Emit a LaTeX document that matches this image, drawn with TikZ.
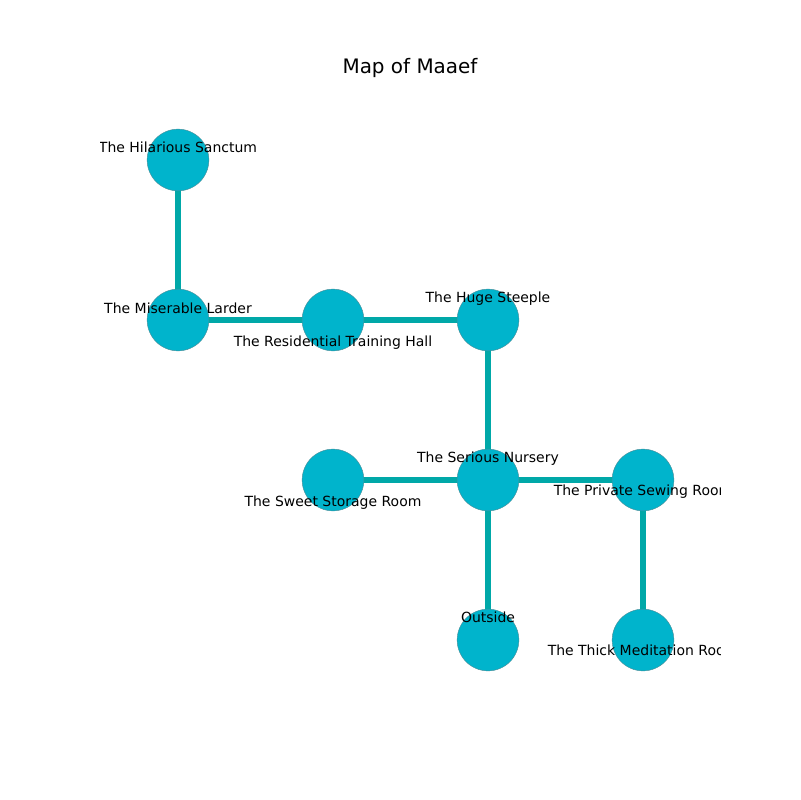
\documentclass[tikz,border=0pt]{standalone}
\usepackage{fontspec}
\setmainfont{DejaVu Sans}
\definecolor{nodefill}{HTML}{00B4CC}
\definecolor{edgecol}{HTML}{00A8A8}
\definecolor{rimcol}{HTML}{4A8A94}
\tikzset{
  room/.style={circle, fill=nodefill, draw=rimcol, line width=0.3pt, minimum size=44.6pt, inner sep=0pt},
  link/.style={draw=edgecol, line width=3.9pt},
  lbl/.style={anchor=base, inner sep=0pt, font=\fontsize{10.1}{12}\selectfont},
}
\begin{document}
\begin{tikzpicture}[x=0.01in, y=-0.01in]
\useasboundingbox (0,0) rectangle (800,800);
\node[font=\fontsize{14.4}{17}\selectfont, anchor=base, inner sep=0pt] (title) at (410,74) {Map of Maaef};
\coordinate (hs) at (178,160);
\coordinate (ml) at (178,320);
\coordinate (rt) at (333,320);
\coordinate (hst) at (488,320);
\coordinate (sn) at (488,480);
\coordinate (ss) at (333,480);
\coordinate (ps) at (643,480);
\coordinate (out) at (488,640);
\coordinate (tm) at (643,640);
\draw[link] (hs) -- (ml);
\draw[link] (ml) -- (rt);
\draw[link] (rt) -- (hst);
\draw[link] (hst) -- (sn);
\draw[link] (ss) -- (sn);
\draw[link] (sn) -- (ps);
\draw[link] (sn) -- (out);
\draw[link] (ps) -- (tm);
\foreach \n in {hs,ml,rt,hst,sn,ss,ps,out,tm} {\node[room] (c\n) at (\n) {};}
\begin{scope}
\clip (100,96) rectangle (720,712);
\node[lbl] (lhs) at (178,153) {The Hilarious Sanctum};
\node[lbl] (lml) at (178,313) {The Miserable Larder};
\node[lbl] (lrt) at (333,346) {The Residential Training Hall};
\node[lbl] (lhst) at (488,302) {The Huge Steeple};
\node[lbl] (lsn) at (488,462) {The Serious Nursery};
\node[lbl] (lss) at (333,506) {The Sweet Storage Room};
\node[lbl] (lps) at (643,495) {The Private Sewing Room};
\node[lbl] (lout) at (488,622) {Outside};
\node[lbl] (ltm) at (643,655) {The Thick Meditation Room};
\end{scope}
\end{tikzpicture}
\end{document}
